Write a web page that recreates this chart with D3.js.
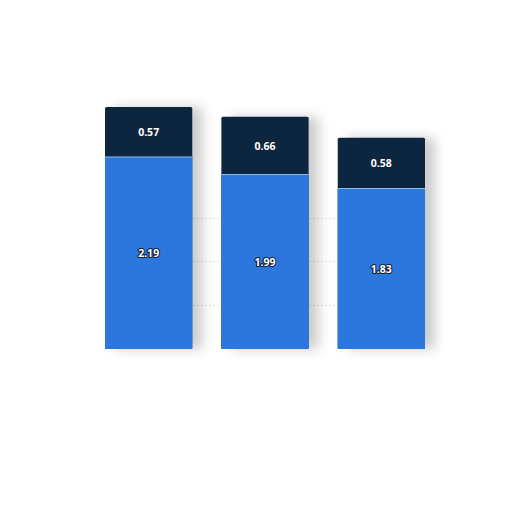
<!DOCTYPE html>
<html>
<head>
<meta charset="utf-8">
<script src="https://cdn.jsdelivr.net/npm/d3@7"></script>
<style>
  body { margin: 0; background: #fff; }
  svg { display: block; }
  .lbl { font-family: "Open Sans", sans-serif; font-weight: 700; font-size: 10.5px; fill: #fff;
         paint-order: stroke; stroke: #142238; stroke-width: 2.2px; stroke-linejoin: round; }
</style>
</head>
<body>
<svg id="chart" width="512" height="512"></svg>
<script>
var categories = ['A', 'B', 'C'];
var lower = [2.19, 1.99, 1.83];
var upper = [0.57, 0.66, 0.58];
var gridTicks = [0.5, 1, 1.5];

var svg = d3.select('#chart');

var x = d3.scaleBand().domain(categories).range([105, 425]).paddingInner(0.25).paddingOuter(0);
var y = d3.scaleLinear().domain([0, 3]).range([349, 86]);

var defs = svg.append('defs');
var f = defs.append('filter').attr('id', 'sh').attr('x', '-40%').attr('y', '-30%').attr('width', '180%').attr('height', '160%');
f.append('feDropShadow').attr('dx', 10).attr('dy', 0).attr('stdDeviation', 6).attr('flood-color', '#000').attr('flood-opacity', 0.2);

// faint grid between bars
svg.append('g').selectAll('line').data(gridTicks).join('line')
  .attr('x1', 105).attr('x2', 425)
  .attr('y1', function(d) { return Math.round(y(d)) + 0.5; })
  .attr('y2', function(d) { return Math.round(y(d)) + 0.5; })
  .attr('stroke', '#e2e2e2').attr('stroke-dasharray', '2,2');

var rows = categories.map(function(c, i) { return { c: c, lo: lower[i], up: upper[i] }; });

var g = svg.append('g').selectAll('g').data(rows).join('g');

g.append('rect')
  .attr('filter', 'url(#sh)')
  .attr('x', function(d) { return x(d.c); })
  .attr('width', x.bandwidth())
  .attr('y', function(d) { return y(d.lo + d.up); })
  .attr('height', function(d) { return y(0) - y(d.lo + d.up); })
  .attr('rx', 1.5)
  .attr('fill', '#10263f');

g.append('rect')
  .attr('x', function(d) { return x(d.c); })
  .attr('width', x.bandwidth())
  .attr('y', function(d) { return y(d.lo); })
  .attr('height', function(d) { return y(0) - y(d.lo); })
  .attr('fill', '#2b77dd');

// light seam between segments
g.append('line')
  .attr('x1', function(d) { return x(d.c); })
  .attr('x2', function(d) { return x(d.c) + x.bandwidth(); })
  .attr('y1', function(d) { return y(d.lo); })
  .attr('y2', function(d) { return y(d.lo); })
  .attr('stroke', '#8fc0f0').attr('stroke-width', 1);

g.append('text').attr('class', 'lbl').attr('text-anchor', 'middle')
  .attr('x', function(d) { return x(d.c) + x.bandwidth() / 2; })
  .attr('y', function(d) { return y(d.lo / 2) + 4; })
  .text(function(d) { return d.lo.toFixed(2); });

g.append('text').attr('class', 'lbl').attr('text-anchor', 'middle')
  .attr('x', function(d) { return x(d.c) + x.bandwidth() / 2; })
  .attr('y', function(d) { return y(d.lo + d.up / 2) + 4; })
  .text(function(d) { return d.up.toFixed(2); });
</script>
</body>
</html>
